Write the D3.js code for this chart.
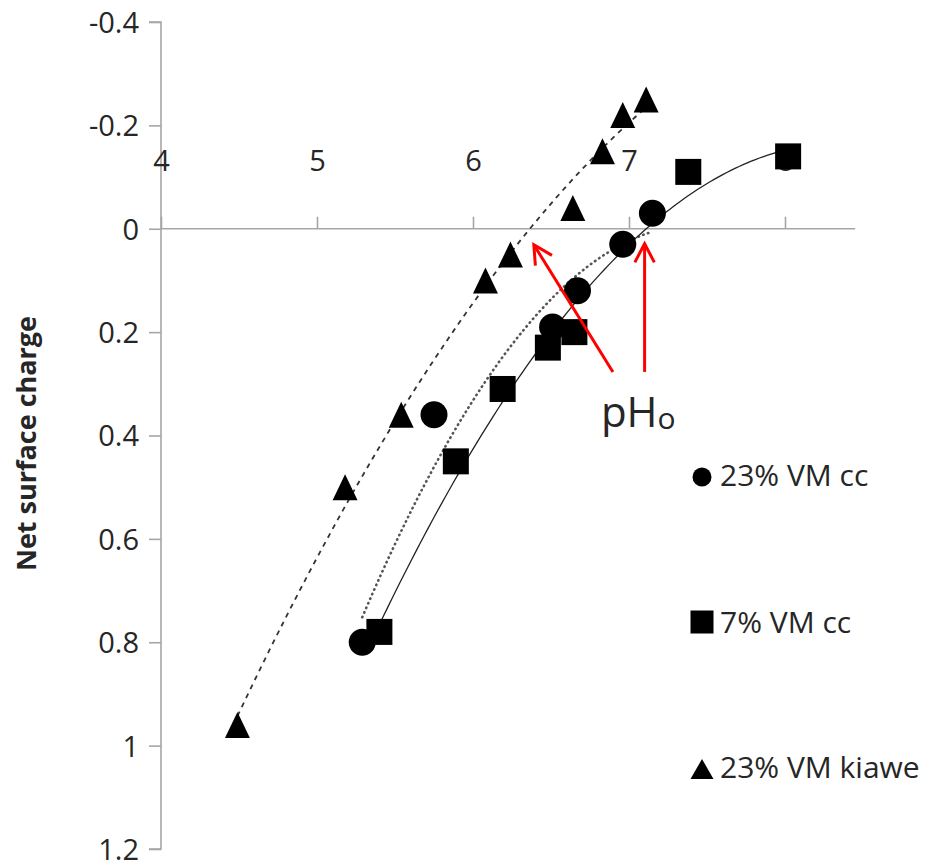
<!DOCTYPE html>
<html>
<head>
<meta charset="utf-8">
<script src="https://cdn.jsdelivr.net/npm/d3@7"></script>
<style>
  html, body { margin: 0; padding: 0; background: #ffffff; }
  svg { display: block; }
  text { font-family: "Open Sans", "Liberation Sans", sans-serif; fill: #262626; }
</style>
</head>
<body>
<svg id="chart" width="933" height="865"></svg>
<script>
// Net surface charge vs pH for three chars
const seriesNames = ["23% VM cc", "7% VM cc", "23% VM kiawe"];

// 23% VM cc (circles)
const ccHighPH     = [5.29, 5.75, 6.51, 6.67, 6.96, 7.15];
const ccHighCharge = [0.80, 0.36, 0.19, 0.12, 0.03, -0.03];

// 7% VM cc (squares)
const ccLowPH      = [5.40, 5.89, 6.19, 6.48, 6.65, 7.38, 8.02];
const ccLowCharge  = [0.78, 0.45, 0.31, 0.23, 0.20, -0.11, -0.14];

// 23% VM kiawe (triangles)
const kiawePH      = [4.49, 5.18, 5.54, 6.08, 6.24, 6.64, 6.83, 6.96, 7.11];
const kiaweCharge  = [0.96, 0.50, 0.36, 0.10, 0.05, -0.04, -0.15, -0.22, -0.25];

const xTicks = [4, 5, 6, 7, 8];
const yTicks = [-0.4, -0.2, 0, 0.2, 0.4, 0.6, 0.8, 1, 1.2];
const xTickLabels = ["4", "5", "6", "7", "8"];
const yTickLabels = ["-0.4", "-0.2", "0", "0.2", "0.4", "0.6", "0.8", "1", "1.2"];

// Zero-charge points marked by the arrows
const pzcPH = [6.39, 7.10];
const pzcLabel = "pH";
const pzcSub = "o";

const svg = d3.select("#chart");

const x = d3.scaleLinear().domain([4, 8]).range([161, 785]);
const y = d3.scaleLinear().domain([-0.4, 1.2]).range([22, 849]);
const axisColor = "#a6a6a6";

// ---- y axis (charge grows downward) ----
const yAxis = svg.append("g").attr("transform", `translate(${x(4)},0)`)
  .call(d3.axisLeft(y).tickValues(yTicks).tickSize(12).tickPadding(10)
    .tickFormat((d, i) => yTickLabels[i]));
yAxis.select(".domain").attr("stroke", axisColor).attr("stroke-width", 1.6)
  .attr("d", `M-12,${y(-0.4)}H0V${y(1.2)}H-12`);
yAxis.selectAll(".tick line").attr("stroke", axisColor).attr("stroke-width", 1.6);
yAxis.selectAll(".tick text").attr("font-size", 29).attr("fill", "#262626")
  .attr("font-family", "Open Sans").attr("dy", "0.36em");

// ---- x axis drawn through zero charge, labels above ----
const xAxis = svg.append("g").attr("transform", `translate(0,${y(0)})`)
  .call(d3.axisTop(x).tickValues(xTicks).tickSize(12).tickPadding(46)
    .tickFormat((d, i) => xTickLabels[i]));
xAxis.select(".domain").attr("stroke", axisColor).attr("stroke-width", 1.6)
  .attr("d", `M${x(4)},0H${x(8.45)}`);
xAxis.selectAll(".tick line").attr("stroke", axisColor).attr("stroke-width", 1.6);
xAxis.selectAll(".tick text").attr("font-size", 29).attr("fill", "#262626")
  .attr("font-family", "Open Sans").attr("dy", 0);

// ---- axis title ----
svg.append("text")
  .attr("transform", `translate(36,${(y(-0.4) + y(1.2)) / 2 + 8}) rotate(-90)`)
  .attr("text-anchor", "middle")
  .attr("font-size", 27).attr("font-weight", "bold")
  .attr("fill", "#1a1a1a")
  .text("Net surface charge");

// ---- quadratic least-squares trendline ----
function quadFit(xs, ys) {
  const n = xs.length;
  let s = [0, 0, 0, 0, 0], t = [0, 0, 0];
  for (let i = 0; i < n; i++) {
    const xi = xs[i], yi = ys[i];
    for (let k = 0; k < 5; k++) s[k] += Math.pow(xi, k);
    for (let k = 0; k < 3; k++) t[k] += yi * Math.pow(xi, k);
  }
  const A = [[s[0], s[1], s[2], t[0]], [s[1], s[2], s[3], t[1]], [s[2], s[3], s[4], t[2]]];
  for (let c = 0; c < 3; c++) {
    let p = c;
    for (let r = c + 1; r < 3; r++) if (Math.abs(A[r][c]) > Math.abs(A[p][c])) p = r;
    [A[c], A[p]] = [A[p], A[c]];
    for (let r = 0; r < 3; r++) {
      if (r === c) continue;
      const f = A[r][c] / A[c][c];
      for (let k = c; k < 4; k++) A[r][k] -= f * A[c][k];
    }
  }
  const b = A.map((row, i) => row[3] / row[i]);
  return v => b[0] + b[1] * v + b[2] * v * v;
}

function trendPoints(xs, ys) {
  const f = quadFit(xs, ys);
  const [lo, hi] = d3.extent(xs);
  return d3.range(0, 101).map(i => {
    const v = lo + (hi - lo) * i / 100;
    return [v, f(v)];
  });
}

const line = d3.line().x(d => x(d[0])).y(d => y(d[1])).curve(d3.curveLinear);

// kiawe: dashed
svg.append("path").attr("d", line(trendPoints(kiawePH, kiaweCharge)))
  .attr("fill", "none").attr("stroke", "#333").attr("stroke-width", 1.8)
  .attr("stroke-dasharray", "5,5");
// 23% VM cc: round dots
svg.append("path").attr("d", line(trendPoints(ccHighPH, ccHighCharge)))
  .attr("fill", "none").attr("stroke", "#555").attr("stroke-width", 2.6)
  .attr("stroke-linecap", "round").attr("stroke-dasharray", "0.5,4.5");
// 7% VM cc: thin solid
svg.append("path").attr("d", line(trendPoints(ccLowPH, ccLowCharge)))
  .attr("fill", "none").attr("stroke", "#222").attr("stroke-width", 1.3);

// ---- markers ----
const triPath = (s) => `M0,${-s}L${s * 0.96},${s}L${-s * 0.96},${s}Z`;

svg.append("g").selectAll("circle").data(d3.zip(ccHighPH, ccHighCharge)).join("circle")
  .attr("cx", d => x(d[0])).attr("cy", d => y(d[1])).attr("r", 13.5).attr("fill", "#000");

svg.append("g").selectAll("rect").data(d3.zip(ccLowPH, ccLowCharge)).join("rect")
  .attr("x", d => x(d[0]) - 13).attr("y", d => y(d[1]) - 13)
  .attr("width", 26).attr("height", 26).attr("fill", "#000");

svg.append("g").selectAll("path").data(d3.zip(kiawePH, kiaweCharge)).join("path")
  .attr("transform", d => `translate(${x(d[0])},${y(d[1])})`)
  .attr("d", triPath(13)).attr("fill", "#000");

// ---- pH of zero charge arrows ----
const red = "#ff0000";
function arrow(x1, y1, x2, y2) {
  const g = svg.append("g").attr("stroke", red).attr("stroke-width", 3).attr("fill", "none");
  g.append("line").attr("x1", x1).attr("y1", y1).attr("x2", x2).attr("y2", y2);
  const ang = Math.atan2(y2 - y1, x2 - x1), L = 21, a = Math.PI / 6.5;
  g.append("path").attr("d",
    `M${x2 - L * Math.cos(ang - a)},${y2 - L * Math.sin(ang - a)}L${x2},${y2}L${x2 - L * Math.cos(ang + a)},${y2 - L * Math.sin(ang + a)}`);
}
arrow(x(6.897), y(0.277), x(pzcPH[0]), y(0.031));
arrow(x(pzcPH[1]), y(0.277), x(pzcPH[1]), y(0.029));

const lab = svg.append("text").attr("x", x(6.82)).attr("y", y(0.384))
  .attr("font-size", 42).attr("fill", "#000");
lab.append("tspan").text(pzcLabel);
lab.append("tspan").attr("font-size", 30).attr("dy", 2).text(pzcSub);

// ---- legend ----
const legend = svg.append("g");
const legendRows = [
  { name: seriesNames[0], cy: 477, baseline: 486 },
  { name: seriesNames[1], cy: 622, baseline: 633 },
  { name: seriesNames[2], cy: 769, baseline: 778 }
];
legend.append("circle").attr("cx", 702).attr("cy", legendRows[0].cy).attr("r", 9.5).attr("fill", "#000");
legend.append("rect").attr("x", 702 - 11.5).attr("y", legendRows[1].cy - 11.5)
  .attr("width", 23).attr("height", 23).attr("fill", "#000");
legend.append("path").attr("transform", `translate(702,${legendRows[2].cy})`)
  .attr("d", "M0,-10L11.5,10L-11.5,10Z").attr("fill", "#000");
legend.selectAll("text.lg").data(legendRows).join("text").attr("class", "lg")
  .attr("x", 720).attr("y", d => d.baseline).attr("font-size", 30)
  .text(d => d.name);
</script>
</body>
</html>
